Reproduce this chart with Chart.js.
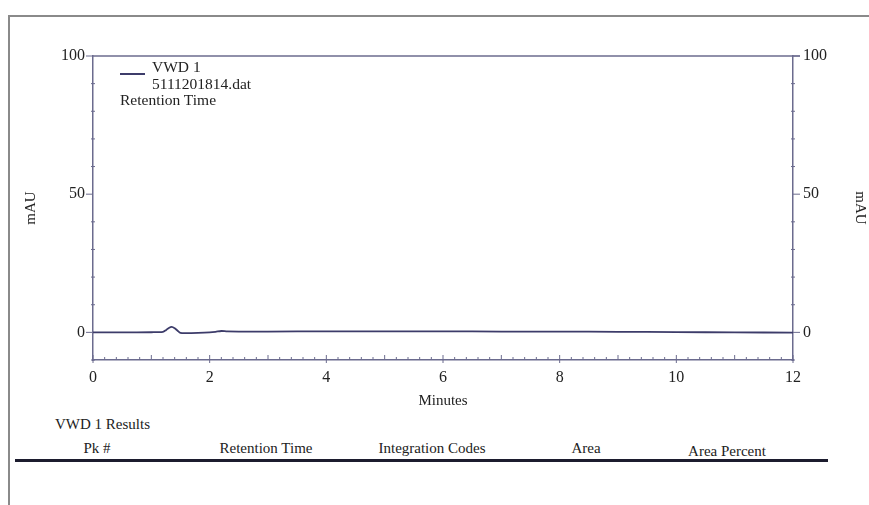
<!DOCTYPE html>
<html>
<head>
<meta charset="utf-8">
<script src="https://cdn.jsdelivr.net/npm/chart.js@4.4.1/dist/chart.umd.min.js"></script>
<style>
  body { margin: 0; background: #fff; font-family: "Liberation Serif", serif; color: #222; }
  #page { position: relative; width: 869px; height: 505px; overflow: hidden; }
  #frame { position: absolute; left: 8px; top: 15px; width: 870px; height: 500px;
           border-left: 2px solid #8a8a8a; border-top: 2px solid #8a8a8a; }
  #wrap { position: absolute; left: 0; top: 0; width: 869px; height: 410px; }
  .txt { position: absolute; font-size: 15.5px; white-space: nowrap; line-height: 1; }
  #legendLine { position: absolute; left: 120px; top: 73px; width: 25px; height: 0;
                border-top: 2px solid #3d3c6a; }
  .hdr { position: absolute; top: 440px; font-size: 15px; transform: translateX(-50%); white-space: nowrap; }
  #rule { position: absolute; left: 15px; top: 459px; width: 813px; height: 3px; background: #1c1c2e; }
</style>
</head>
<body>
<div id="page">
  <div id="frame"></div>
  <div id="wrap"><canvas id="myChart" width="869" height="410"></canvas></div>
  <div id="legendLine"></div>
  <div class="txt" style="left:152px; top:59px;">VWD 1</div>
  <div class="txt" style="left:152px; top:76px;">5111201814.dat</div>
  <div class="txt" style="left:120px; top:92px;">Retention Time</div>
  <div class="txt" style="left:55px; top:417px; font-size:15px;">VWD 1 Results</div>
  <div class="hdr" style="left:97px;">Pk #</div>
  <div class="hdr" style="left:266px;">Retention Time</div>
  <div class="hdr" style="left:432px;">Integration Codes</div>
  <div class="hdr" style="left:586px;">Area</div>
  <div class="hdr" style="left:727px; top:443px;">Area Percent</div>
  <div id="rule"></div>
</div>
<script>
// Data
var times  = [0, 0.5, 1.0, 1.2, 1.25, 1.3, 1.35, 1.4, 1.45, 1.5, 1.6, 1.8, 2.0, 2.1, 2.2, 2.3, 2.5, 3, 4, 5, 6, 7, 8, 9, 10, 11, 12]
var signal = [0, 0, 0.05, 0.2, 0.8, 1.6, 2.0, 1.5, 0.6, -0.2, -0.3, -0.2, 0, 0.2, 0.5, 0.35, 0.3, 0.3, 0.35, 0.35, 0.35, 0.3, 0.3, 0.2, 0.1, 0, -0.1]
var xTicks = [0, 2, 4, 6, 8, 10, 12]
var yLabels = [0, 50, 100]

var lineColor = '#3d3c6a'
var axisColor = '#6b6b8e'
var tickFont = { family: 'Liberation Serif', size: 16 }
var titleFont = { family: 'Liberation Serif', size: 15 }

var points = times.map((t, i) => ({ x: t, y: signal[i] }))

// Extra axis marks: top line, minor ticks
var axisMarks = {
    id: 'axisMarks',
    afterDraw(chart) {
        var ctx = chart.ctx
        var a = chart.chartArea
        var xs = chart.scales.x, ys = chart.scales.y
        ctx.save()
        ctx.strokeStyle = axisColor
        ctx.lineWidth = 1.5
        ctx.beginPath()
        ctx.moveTo(a.left, a.top)
        ctx.lineTo(a.right + 7, a.top)
        ctx.stroke()

        ctx.lineWidth = 1
        ctx.beginPath()
        for (var i = 0; i <= 60; i++) {
            var px = xs.getPixelForValue(i * 0.2)
            var len = (i % 5 == 0) ? 5 : 3
            ctx.moveTo(px, a.bottom)
            ctx.lineTo(px, a.bottom - len)
            if (i % 10 == 0) {
                ctx.moveTo(px, a.bottom)
                ctx.lineTo(px, a.bottom + 3)
            }
        }
        for (var v = -10; v <= 100; v += 10) {
            var py = ys.getPixelForValue(v)
            if (yLabels.includes(v)) {
                ctx.moveTo(a.left - 7, py); ctx.lineTo(a.left, py)
                ctx.moveTo(a.right, py); ctx.lineTo(a.right + 7, py)
            } else {
                ctx.moveTo(a.left - 2, py); ctx.lineTo(a.left + 2, py)
                ctx.moveTo(a.right - 2, py); ctx.lineTo(a.right + 2, py)
            }
        }
        ctx.stroke()
        ctx.restore()
    }
}

var ctx = document.getElementById('myChart').getContext('2d')

var myChart = new Chart(ctx, {
    type: 'line',
    data: {
        datasets: [{
            data: points,
            borderColor: lineColor,
            borderWidth: 1.8,
            pointRadius: 0,
            tension: 0.3,
            yAxisID: 'y'
        }]
    },
    options: {
        responsive: false,
        animation: false,
        layout: { padding: { left: 22, right: 0, top: 56, bottom: 0 } },
        plugins: { legend: { display: false }, tooltip: { enabled: false } },
        scales: {
            x: {
                type: 'linear',
                min: 0, max: 12,
                afterBuildTicks: s => { s.ticks = xTicks.map(v => ({ value: v })) },
                afterFit: s => { s.height = 50 },
                ticks: { font: tickFont, color: '#222', padding: 8, maxRotation: 0 },
                grid: { drawOnChartArea: false, drawTicks: false },
                border: { color: axisColor, width: 1.5 },
                title: { display: true, text: 'Minutes', font: titleFont, color: '#222', padding: 0 }
            },
            y: {
                min: -10, max: 100,
                afterBuildTicks: s => { s.ticks = yLabels.map(v => ({ value: v })) },
                afterFit: s => { s.width = 71 },
                ticks: { font: tickFont, color: '#222', padding: 8 },
                grid: { drawOnChartArea: false, drawTicks: false },
                border: { color: axisColor, width: 1.5 },
                title: { display: true, text: 'mAU', font: titleFont, color: '#222', padding: 0 }
            },
            y2: {
                position: 'right',
                min: -10, max: 100,
                afterBuildTicks: s => { s.ticks = yLabels.map(v => ({ value: v })) },
                afterFit: s => { s.width = 76 },
                ticks: { font: tickFont, color: '#222', padding: 10 },
                grid: { drawOnChartArea: false, drawTicks: false },
                border: { color: axisColor, width: 1.5 },
                title: { display: true, text: 'mAU', font: titleFont, color: '#222', padding: 0 }
            }
        }
    },
    plugins: [axisMarks]
})
</script>
</body>
</html>
